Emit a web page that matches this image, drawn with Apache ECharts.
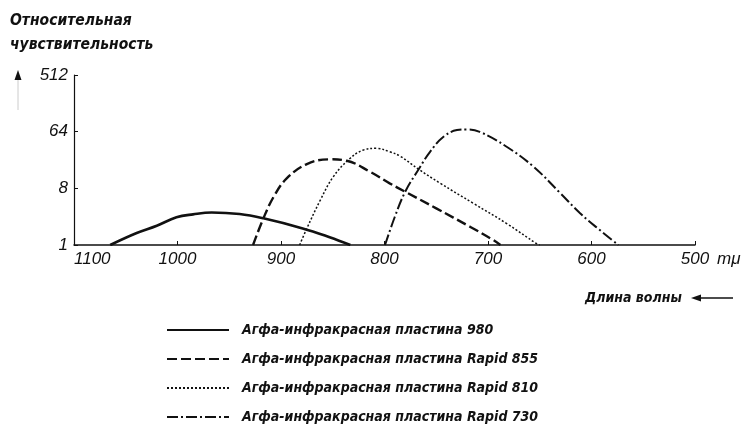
<!DOCTYPE html>
<html>
<head>
<meta charset="utf-8">
<script src="https://cdn.jsdelivr.net/npm/echarts@6/dist/echarts.min.js"></script>
<style>
html,body{margin:0;padding:0;background:#fff;}
#chart{width:747px;height:424px;}
</style>
</head>
<body>
<div id="chart"></div>
<script>
// Wavelength (mμ) and relative sensitivity
const plate980X = [1065, 1040, 1020, 1001, 985, 967, 940, 917, 879, 853, 833];
const plate980Y = [1, 1.54, 2.03, 2.76, 3.08, 3.3, 3.12, 2.66, 1.84, 1.33, 1];

const plate855X = [927, 917, 907, 894.5, 875, 853, 836.5, 814, 795, 780, 750, 717, 695, 688];
const plate855Y = [1, 2.66, 5.9, 11.5, 19.5, 23.2, 22.0, 14.7, 9.6, 7.06, 3.84, 1.94, 1.2, 1];

const plate810X = [882, 875, 862, 849.5, 835, 820.5, 807.5, 795, 785, 767, 746, 714, 682, 653, 650];
const plate810Y = [1, 1.84, 5.2, 12.2, 22.6, 32.6, 34.7, 30.6, 26.1, 16.1, 9.6, 4.6, 2.2, 1.05, 1];

const plate730X = [799.5, 790, 780, 767, 756, 743, 730, 720.5, 708, 682, 656, 630, 611, 592, 574];
const plate730Y = [1, 2.82, 7.06, 16.1, 30.6, 53, 67.8, 69.6, 63.7, 36.8, 17.7, 6.66, 3.2, 1.73, 1];

const xTicks = [500, 600, 700, 800, 900, 1000, 1100];
const yTicks = [1, 8, 64, 512];

const seriesNames = [
  'Агфа-инфракрасная пластина 980',
  'Агфа-инфракрасная пластина Rapid 855',
  'Агфа-инфракрасная пластина Rapid 810',
  'Агфа-инфракрасная пластина Rapid 730'
];
const titleLines = ['Относительная', 'чувствительность'];
const xAxisTitle = 'Длина волны';
const unitLabel = 'mμ';

const boldFont = "'Liberation Sans Narrow','DejaVu Sans Condensed',sans-serif";
const tickFont = "'Liberation Sans','DejaVu Sans',sans-serif";

function pairs(xs, ys) { return xs.map((x, i) => [x, ys[i]]); }

const chart = echarts.init(document.getElementById('chart'), null, {renderer: 'canvas'});

const styles = [
  {type: 'solid', width: 2.6},
  {type: [10, 4], width: 2.4},
  {type: [2, 2], width: 1.5},
  {type: [11, 3, 2, 3], width: 2.0}
];
const datasets = [
  pairs(plate980X, plate980Y),
  pairs(plate855X, plate855Y),
  pairs(plate810X, plate810Y),
  pairs(plate730X, plate730Y)
];

const option = {
  backgroundColor: '#fff',
  animation: false,
  grid: {left: 74, right: 52, top: 75, bottom: 179},
  xAxis: {
    type: 'value',
    inverse: true,
    min: 500,
    max: 1100,
    interval: 100,
    splitLine: {show: false},
    axisLine: {lineStyle: {color: '#111', width: 1.5}},
    axisTick: {inside: true, length: 4, lineStyle: {color: '#111', width: 1}},
    axisLabel: {
      margin: 6, fontSize: 17, fontStyle: 'italic', color: '#111',
      fontFamily: tickFont, alignMaxLabel: 'left',
      formatter: v => xTicks.indexOf(v) >= 0 ? String(v) : ''
    }
  },
  yAxis: {
    type: 'log',
    logBase: 8,
    min: 1,
    max: 512,
    splitNumber: 3,
    splitLine: {show: false},
    axisLine: {show: true, lineStyle: {color: '#111', width: 1.2}},
    axisTick: {show: true, inside: true, length: 4, lineStyle: {color: '#111', width: 1}},
    axisLabel: {
      margin: 6, fontSize: 17, fontStyle: 'italic', color: '#111',
      fontFamily: tickFont,
      formatter: v => yTicks.indexOf(Math.round(v)) >= 0 ? String(Math.round(v)) : ''
    }
  },
  legend: {
    orient: 'vertical',
    left: 161,
    top: 318,
    height: 106,
    itemWidth: 62,
    itemHeight: 14,
    itemGap: 15,
    selectedMode: false,
    itemStyle: {opacity: 0},
    textStyle: {
      fontFamily: boldFont, fontWeight: 'bold', fontStyle: 'italic',
      fontSize: 14, lineHeight: 14, color: '#111', padding: [0, 0, 0, 8]
    },
    data: seriesNames
  },
  series: seriesNames.map((name, i) => ({
    name: name,
    type: 'line',
    data: datasets[i],
    smooth: 0.4,
    symbol: 'none',
    color: '#111',
    lineStyle: {color: '#111', width: styles[i].width, type: styles[i].type, cap: 'butt'}
  }))
};
chart.setOption(option);

const p500 = chart.convertToPixel({gridIndex: 0}, [500, 1]);
chart.setOption({
  graphic: [
    {type: 'text', left: 10, top: 13, style: {text: titleLines[0], font: "italic bold 15.5px " + boldFont, fill: '#111'}},
    {type: 'text', left: 10, top: 37, style: {text: titleLines[1], font: "italic bold 15.5px " + boldFont, fill: '#111'}},
    {type: 'polygon', shape: {points: [[18, 70], [14.5, 80], [21.5, 80]]}, style: {fill: '#111'}},
    {type: 'line', shape: {x1: 18, y1: 80, x2: 18, y2: 110}, style: {stroke: '#ccc', lineWidth: 1}},
    {type: 'text', x: p500[0] + 22, y: p500[1] + 6, style: {text: unitLabel, font: "italic 17px " + tickFont, fill: '#111', textVerticalAlign: 'top'}},
    {type: 'text', x: 585, y: 298, style: {text: xAxisTitle, font: "italic bold 14px " + boldFont, fill: '#111', textVerticalAlign: 'middle'}},
    {type: 'line', shape: {x1: 698, y1: 298, x2: 733, y2: 298}, style: {stroke: '#111', lineWidth: 1.5}},
    {type: 'polygon', shape: {points: [[691, 298], [701, 294.5], [701, 301.5]]}, style: {fill: '#111'}}
  ]
});
</script>
</body>
</html>
